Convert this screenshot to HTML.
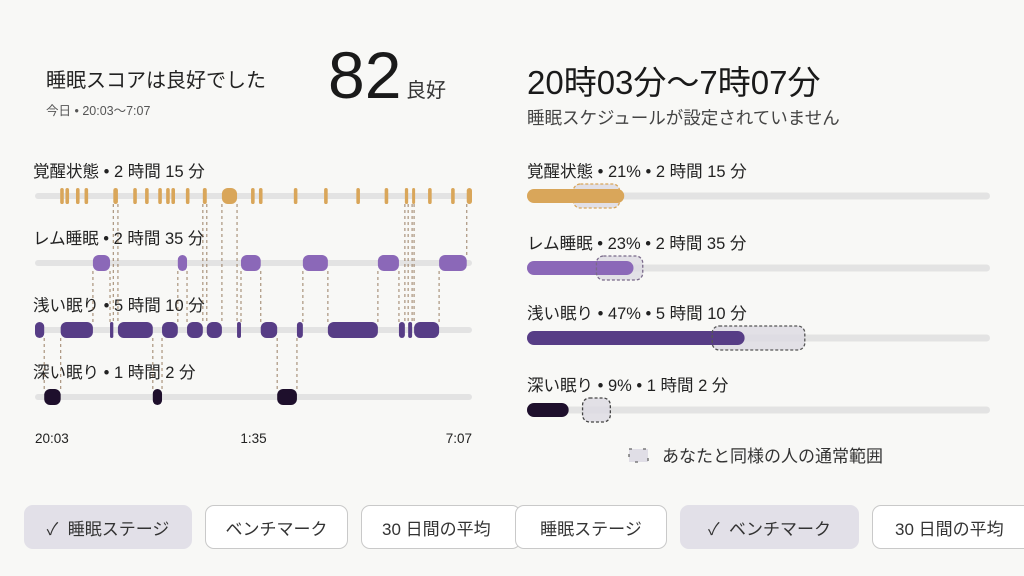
<!DOCTYPE html>
<html><head><meta charset="utf-8">
<style>
html,body{margin:0;padding:0;background:#f8f8f6;}
body{width:1024px;height:576px;position:relative;overflow:hidden;font-family:"Liberation Sans","Noto Sans CJK JP",sans-serif;color:#222;}
.abs{position:absolute;white-space:nowrap;}
.btn{position:absolute;top:505px;height:44px;border:1.5px solid #c9c9c9;border-radius:9px;box-sizing:border-box;background:#fff;font-size:17px;color:#333;display:flex;align-items:center;justify-content:center;}
.btn.sel{background:#e2e0e8;border-color:#e2e0e8;}
</style></head><body>
<div class="abs" style="left:46px;top:64px;font-size:20px;color:#222">睡眠スコアは良好でした</div>
<div class="abs" style="left:46px;top:100px;font-size:12.5px;color:#555">今日 • 20:03〜7:07</div>
<div class="abs" style="left:328px;top:37px;font-size:66px;color:#1a1a1a">82</div>
<div class="abs" style="left:406px;top:74px;font-size:20px;color:#333">良好</div>
<div class="abs" style="left:527px;top:56px;font-size:33px;color:#1a1a1a">20時03分〜7時07分</div>
<div class="abs" style="left:527px;top:105px;font-size:17.5px;color:#444">睡眠スケジュールが設定されていません</div>

<svg id="hyp" width="1024" height="576" style="position:absolute;left:0;top:0"></svg>

<div class="btn sel" style="left:24px;width:168px">✓&nbsp;&nbsp;睡眠ステージ</div>
<div class="btn" style="left:205px;width:143px">ベンチマーク</div>
<div class="btn" style="left:361px;width:160px;justify-content:flex-start;padding-left:20px">30 日間の平均</div>
<div class="btn" style="left:515px;width:152px">睡眠ステージ</div>
<div class="btn sel" style="left:680px;width:179px">✓&nbsp;&nbsp;ベンチマーク</div>
<div class="btn" style="left:872px;width:170px;justify-content:flex-start;padding-left:22px">30 日間の平均</div>

<script>
// Hypnogram data (minutes from 20:03; total 664)
const segStages = ['L','D','L','R','L','W','L','D','L','R','L','W','L','W','L','R','L','D','L','R','L','R','L','W','L','W','L','R','W'];
const segStarts = [0,14,39,88,114,119,126,179,193,217,231,255,261,284,307,313,343,368,398,407,445,521,553,562,567,573,576,614,656];
const totalMinutes = 664;
const briefAwake = [41,49,65,78,152,170,190,202,210,232,331,343,396,442,491,534,600,635];
const stageLabels = ['覚醒状態 • 2 時間 15 分','レム睡眠 • 2 時間 35 分','浅い眠り • 5 時間 10 分','深い眠り • 1 時間 2 分'];
const timeTicks = ['20:03','1:35','7:07'];
const tickMinutes = [0,332,664];
// Benchmark data (percent)
const benchLabels = ['覚醒状態 • 21% • 2 時間 15 分','レム睡眠 • 23% • 2 時間 35 分','浅い眠り • 47% • 5 時間 10 分','深い眠り • 9% • 1 時間 2 分'];
const benchValues = [21,23,47,9];
const rangeLow = [10,15,40,12];
const rangeHigh = [20,25,60,18];

const NS='http://www.w3.org/2000/svg';
const svg=document.getElementById('hyp');
function mk(tag,attrs,name){const e=document.createElementNS(NS,tag);for(const k in attrs)e.setAttribute(k,attrs[k]);


svg.appendChild(e);return e;}
const colors={W:'#d9a65a',R:'#8b68b8',L:'#573d86',D:'#1e0f2c'};
const rowY={W:196,R:263,L:330,D:397};
const X0=35,X1=472;
const xs=m=>X0+(m/totalMinutes)*(X1-X0);
const order=['W','R','L','D'];
order.forEach((s,i)=>{
  mk('rect',{x:X0,y:rowY[s]-3,width:X1-X0,height:6,rx:3,fill:'#e3e3e3'},'track-'+s);
  const t=mk('text',{x:33,y:rowY[s]-19,'font-size':16.5,fill:'#222'},'stage-label-'+s);t.textContent=stageLabels[i];
});
for(let i=1;i<segStages.length;i++){
  const a=segStages[i-1],b=segStages[i];const x=xs(segStarts[i]);
  const y1=Math.min(rowY[a],rowY[b])+8,y2=Math.max(rowY[a],rowY[b])-8;
  mk('line',{x1:x,x2:x,y1:y1,y2:y2,stroke:'#8a6a4a','stroke-width':1.2,'stroke-dasharray':'3,3',opacity:0.7},'transition-line');
}
segStages.forEach((s,i)=>{
  const st=segStarts[i],en=i+1<segStarts.length?segStarts[i+1]:totalMinutes;
  const x=xs(st),w=Math.max(xs(en)-x,3);
  mk('rect',{x:x,y:rowY[s]-8,width:w,height:16,rx:Math.min(6,w/2),fill:colors[s]},'segment-'+s);
});
briefAwake.forEach(m=>{mk('rect',{x:xs(m)-1.8,y:rowY.W-8,width:3.6,height:16,rx:1.8,fill:colors.W},'brief-awake');});
timeTicks.forEach((t,i)=>{const anchor=i==0?'start':(i==timeTicks.length-1?'end':'middle');
  const e=mk('text',{x:xs(tickMinutes[i]),y:443,'font-size':13.5,fill:'#222','text-anchor':anchor},'time-tick');e.textContent=t;});

const BX0=527,BX1=990;
const bx=p=>BX0+p/100*(BX1-BX0);
const bcol=['#d9a65a','#8b68b8','#573d86','#1e0f2c'];
const brd=['#d9a65a','#7a6a8a','#555','#444'];
const by=[196,268,338,410];
benchValues.forEach((v,i)=>{
  const t=mk('text',{x:527,y:by[i]-19,'font-size':16.5,fill:'#222'},'benchmark-label');t.textContent=benchLabels[i];
  mk('rect',{x:BX0,y:by[i]-3.5,width:BX1-BX0,height:7,rx:3.5,fill:'#e3e3e3'},'benchmark-track');
  mk('rect',{x:bx(rangeLow[i]),y:by[i]-12,width:bx(rangeHigh[i])-bx(rangeLow[i]),height:24,rx:7,fill:'#dcdae2','fill-opacity':0.8},'normal-range-fill');
  mk('rect',{x:BX0,y:by[i]-7,width:bx(v)-BX0,height:14,rx:7,fill:bcol[i]},'benchmark-bar');
  mk('rect',{x:bx(rangeLow[i]),y:by[i]-12,width:bx(rangeHigh[i])-bx(rangeLow[i]),height:24,rx:7,fill:'none',stroke:brd[i],'stroke-width':1.3,'stroke-dasharray':'3,2'},'normal-range-outline');
});
mk('rect',{x:629,y:449,width:19,height:13,fill:'#e0dee6',stroke:'#666','stroke-width':1.3,'stroke-dasharray':'3,11'},'legend-swatch');
const lt=mk('text',{x:662,y:462,'font-size':17,fill:'#333'},'legend-label');lt.textContent='あなたと同様の人の通常範囲';
</script>
</body></html>
